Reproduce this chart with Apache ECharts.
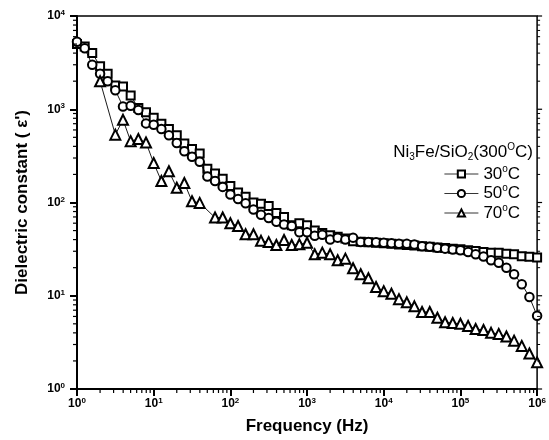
<!DOCTYPE html>
<html><head><meta charset="utf-8">
<script src="https://cdn.jsdelivr.net/npm/echarts@6/dist/echarts.min.js"></script>
<style>html,body{margin:0;padding:0;background:#fff}#c{width:549px;height:440px}</style>
</head><body><div id="c"></div>
<script>
// Frequencies (Hz), log-spaced measurement points
const frequency = [
  1,1.26,1.58,2,2.51,3.16,3.98,5.01,6.31,7.94,
  10,12.6,15.8,20,25.1,31.6,39.8,50.1,63.1,79.4,
  100,126,158,200,251,316,398,501,631,794,
  1000,1260,1580,2000,2510,3160,3980,5010,6310,7940,
  10000,12600,15800,20000,25100,31600,39800,50100,63100,79400,
  100000,126000,158000,200000,251000,316000,398000,501000,631000,794000,
  1000000
];
// Dielectric constant at 30 °C
const eps30 = [
  5000,4700,4000,2900,2400,1800,1750,1400,1030,930,
  810,700,615,525,430,375,335,230,205,180,
  150,128,115,100,97,92,77,70,57,60,
  57,50,47,44.5,43,41,38.5,38,37.5,37,
  36.5,36,35.5,35,34.5,34,33.5,33,32.5,32,
  31.5,30.8,30.2,29.4,29,29,28.2,27.8,26.6,26.2,
  25.7
];
// Dielectric constant at 50 °C
const eps50 = [
  5300,4500,3000,2400,2000,1600,1070,1090,980,705,
  680,615,525,435,355,310,273,190,170,147,
  122,109,98,84,74,68,62,58,56,48,
  48,44,45,40,42,40,42,37.6,37.6,37.4,
  37,36.6,36.2,36,35.5,34,33.5,32.7,32,31.3,
  30.8,29.4,27.8,26.3,24,22.6,20,17,13.3,9.7,
  6.1
];
// Dielectric constant at 70 °C
const eps70 = [
  null,null,null,2000,null,534,770,455,480,440,
  265,170,216,144,162,103,99,null,69,69,
  60,56,45.6,45.6,38.8,37.6,35,39.6,35,35.6,
  37,27.8,29,27.8,24,25,19.7,17,15.4,12.4,
  11.2,10.5,9.2,8.5,7.7,6.7,6.7,5.8,5.2,5.1,
  5.0,4.75,4.4,4.3,4.0,3.9,3.65,3.3,2.9,2.4,
  1.93
];
const seriesNames = ['30', '50', '70'];

const FONT = '"Liberation Sans", Arial, sans-serif';
const chart = echarts.init(document.getElementById('c'), null, {renderer: 'canvas'});

function pairs(ys) { return frequency.map((f, i) => [f, ys[i]]); }
function expLabel(v) {
  const e = Math.round(Math.log10(v));
  return '{b|10}{s|' + e + '}';
}
const tickRich = {
  b: {fontSize: 12, fontWeight: 'bold', fontFamily: FONT, color: '#000', lineHeight: 14},
  s: {fontSize: 8, fontWeight: 'bold', fontFamily: FONT, color: '#000', lineHeight: 7, verticalAlign: 'top'}
};
const legRich = {
  t: {fontSize: 17, fontFamily: FONT, color: '#000', lineHeight: 20},
  s: {fontSize: 10, fontFamily: FONT, color: '#000', lineHeight: 6, verticalAlign: 'top'},
  d: {fontSize: 10, fontFamily: FONT, color: '#000', lineHeight: 8, verticalAlign: 'bottom'}
};
const symbols = ['emptyRect', 'emptyCircle', 'emptyTriangle'];
const sizes = [8, 8.5, 10];
const dataSets = [eps30, eps50, eps70];

const option = {
  animation: false,
  backgroundColor: '#fff',
  textStyle: {fontFamily: FONT},
  grid: {left: 77, top: 16, right: 9, bottom: 50, show: true, borderColor: '#000', borderWidth: 1.5, backgroundColor: 'transparent'},
  title: {
    text: '{t|Ni}{d|3}{t|Fe/SiO}{d|2}{t|(300}{s|O}{t|C)}',
    right: 16, top: 142, padding: 0,
    textStyle: {fontWeight: 'normal', fontSize: 17, rich: legRich}
  },
  legend: {
    data: seriesNames,
    orient: 'vertical',
    left: 444, top: 164, padding: 0,
    itemWidth: 34, itemHeight: 9, itemGap: 1,
    formatter: n => '{t|' + n + '}{s|o}{t|C}',
    textStyle: {rich: legRich, fontSize: 17, color: '#000'},
    itemStyle: {borderWidth: 0.8},
    lineStyle: {width: 0.8},
    inactiveColor: '#000'
  },
  xAxis: {
    type: 'log', logBase: 10, min: 1, max: 1000000,
    name: 'Frequency (Hz)', nameLocation: 'middle', nameGap: 29,
    nameTextStyle: {fontSize: 17, fontWeight: 'bold', color: '#000', fontFamily: FONT},
    axisLine: {lineStyle: {color: '#000', width: 2}},
    axisTick: {inside: false, length: 7, lineStyle: {color: '#000', width: 2}},
    axisLabel: {margin: 8, formatter: expLabel, rich: tickRich, color: '#000'},
    splitLine: {show: false}
  },
  yAxis: {
    type: 'log', logBase: 10, min: 1, max: 10000,
    name: 'Dielectric constant ( ε\')', nameLocation: 'middle', nameGap: 46, nameRotate: 90,
    nameTextStyle: {fontSize: 17, fontWeight: 'bold', color: '#000', fontFamily: FONT},
    axisLine: {lineStyle: {color: '#000', width: 2}},
    axisTick: {inside: false, length: 7, lineStyle: {color: '#000', width: 2}},
    axisLabel: {margin: 12, formatter: expLabel, rich: tickRich, color: '#000'},
    splitLine: {show: false}
  },
  series: dataSets.map((d, i) => ({
    name: seriesNames[i],
    type: 'line',
    data: pairs(d),
    connectNulls: true,
    symbol: symbols[i],
    symbolSize: sizes[i],
    showAllSymbol: true,
    color: '#000',
    itemStyle: {color: '#000', borderColor: '#000', borderWidth: 0.8},
    lineStyle: {color: '#000', width: 0.9},
    z: 2 + i
  }))
};
chart.setOption(option);

// minor ticks on log axes (2..9 within each decade)
function minorTicks() {
  const els = [];
  const x0 = chart.convertToPixel({xAxisIndex: 0}, 1);
  const x1 = chart.convertToPixel({xAxisIndex: 0}, 1000000);
  const yb = chart.convertToPixel({yAxisIndex: 0}, 1);
  const ln = (a, b, c, d, w) => els.push({type: 'line', shape: {x1: a, y1: b, x2: c, y2: d}, style: {stroke: '#000', lineWidth: w}, z: 10});
  for (let e = 0; e < 6; e++) {
    for (let m = 2; m <= 9; m++) {
      const x = chart.convertToPixel({xAxisIndex: 0}, m * Math.pow(10, e));
      ln(x, yb, x, yb + 4, 1.2);
    }
  }
  for (let e = 0; e < 4; e++) {
    for (let m = 2; m <= 9; m++) {
      const y = chart.convertToPixel({yAxisIndex: 0}, m * Math.pow(10, e));
      ln(x0 - 4, y, x0, y, 1.2);
      ln(x1, y, x1 + 3, y, 1);
    }
  }
  for (let e = 0; e <= 4; e++) {
    const y = chart.convertToPixel({yAxisIndex: 0}, Math.pow(10, e));
    ln(x1, y, x1 + 5, y, 1.2);
  }
  chart.setOption({graphic: els});
}
minorTicks();
</script>
</body></html>
